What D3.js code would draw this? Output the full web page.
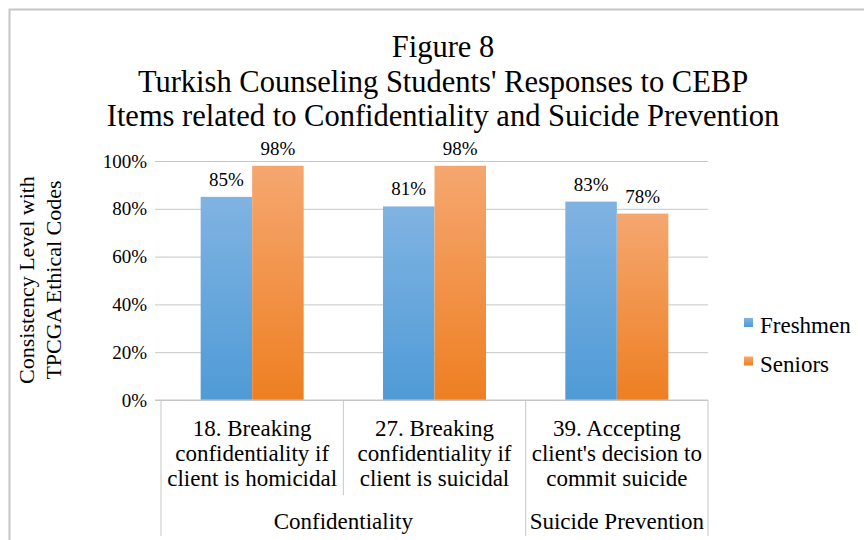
<!DOCTYPE html>
<html>
<head>
<meta charset="utf-8">
<script src="https://cdn.jsdelivr.net/npm/d3@7"></script>
<style>
  body { margin: 0; background: #fff; }
  text { font-family: "Liberation Serif", "Times New Roman", serif; fill: #000; }
</style>
</head>
<body>
<script>
// values
let categories = [
    ["18. Breaking", "confidentiality if", "client is homicidal"],
    ["27. Breaking", "confidentiality if", "client is suicidal"],
    ["39. Accepting", "client's decision to", "commit suicide"]
];
let groups = [
    { name: "Confidentiality", from: 0, to: 2 },
    { name: "Suicide Prevention", from: 2, to: 3 }
];
let seriesNames = ["Freshmen", "Seniors"];
let freshmen = [85, 81, 83];
let seniors = [98, 98, 78];
let yTicks = [0, 20, 40, 60, 80, 100];

let titleLines = [
    "Figure 8",
    "Turkish Counseling Students' Responses to CEBP",
    "Items related to Confidentiality and Suicide Prevention"
];

let width = 864, height = 540;
let plotLeft = 161, plotRight = 708, plotTop = 161, plotBottom = 400;

let svg = d3.select("body").append("svg")
    .attr("width", width)
    .attr("height", height);

// gradients like the original office chart
let defs = svg.append("defs");
let colors = [["#80b3e2", "#4f9bd6"], ["#f5a770", "#ee7f22"]];
colors.forEach((c, i) => {
    let g = defs.append("linearGradient")
        .attr("id", "grad" + i)
        .attr("x1", 0).attr("y1", 0).attr("x2", 0).attr("y2", 1);
    g.append("stop").attr("offset", "0%").attr("stop-color", c[0]);
    g.append("stop").attr("offset", "100%").attr("stop-color", c[1]);
});

// outer frame
svg.append("rect")
    .attr("x", 9.5).attr("y", 9.5)
    .attr("width", 900).attr("height", 600)
    .attr("fill", "none")
    .attr("stroke", "#c6c6c6")
    .attr("stroke-width", 2);

// title
svg.append("g").selectAll("text")
    .data(titleLines)
    .enter()
    .append("text")
    .attr("x", 443)
    .attr("y", (d, i) => 57 + i * 34.5)
    .attr("text-anchor", "middle")
    .style("font-size", "30.5px")
    .text(d => d);

let x = d3.scaleBand()
    .domain(d3.range(categories.length))
    .range([plotLeft, plotRight]);

let inner = d3.scaleBand()
    .domain(seriesNames)
    .range([0, x.bandwidth()])
    .paddingInner(0)
    .paddingOuter(0.77);

let y = d3.scaleLinear()
    .domain([0, 100])
    .range([plotBottom, plotTop]);

// gridlines + y axis
let yAxis = svg.append("g")
    .attr("transform", `translate(${plotLeft},0)`)
    .call(d3.axisLeft(y)
        .tickValues(yTicks)
        .tickSize(-(plotRight - plotLeft))
        .tickPadding(14)
        .tickFormat(d => d + "%"));
yAxis.select(".domain").remove();
yAxis.selectAll("line").attr("stroke", "#c6c6c6");
yAxis.selectAll("text")
    .style("font-size", "19px");
yAxis.selectAll(".tick").append("line")
    .attr("x1", -6).attr("x2", 0)
    .attr("stroke", "#c6c6c6");

// y axis title
svg.append("text")
    .attr("transform", "translate(34,280) rotate(-90)")
    .attr("text-anchor", "middle")
    .style("font-size", "22px")
    .selectAll("tspan")
    .data(["Consistency Level with", "TPCGA Ethical Codes"])
    .enter()
    .append("tspan")
    .attr("x", 0)
    .attr("dy", (d, i) => i === 0 ? 0 : 27)
    .text(d => d);

// bars
let barData = [];
categories.forEach((c, i) => {
    barData.push({ cat: i, series: "Freshmen", idx: 0, value: freshmen[i] });
    barData.push({ cat: i, series: "Seniors", idx: 1, value: seniors[i] });
});

svg.append("g").selectAll("rect")
    .data(barData)
    .enter()
    .append("rect")
    .attr("x", d => x(d.cat) + inner(d.series))
    .attr("y", d => y(d.value))
    .attr("width", inner.bandwidth())
    .attr("height", d => plotBottom - y(d.value))
    .attr("fill", d => `url(#grad${d.idx})`);

// data labels
svg.append("g").selectAll("text")
    .data(barData)
    .enter()
    .append("text")
    .attr("x", d => x(d.cat) + inner(d.series) + inner.bandwidth() / 2)
    .attr("y", d => y(d.value) - 11)
    .attr("text-anchor", "middle")
    .style("font-size", "19px")
    .text(d => d.value + "%");

// x axis line
svg.append("line")
    .attr("x1", plotLeft - 6).attr("x2", plotRight)
    .attr("y1", plotBottom).attr("y2", plotBottom)
    .attr("stroke", "#c6c6c6");

// category separators (short) and group separators (long)
let groupEdges = [0];
groups.forEach(g => groupEdges.push(g.to));
d3.range(categories.length + 1).forEach(i => {
    let isGroup = groupEdges.indexOf(i) >= 0;
    let xp = i < categories.length ? x(i) : plotRight;
    svg.append("line")
        .attr("x1", xp).attr("x2", xp)
        .attr("y1", plotBottom)
        .attr("y2", isGroup ? 536 : 495)
        .attr("stroke", "#c6c6c6");
});

// category labels
categories.forEach((lines, i) => {
    svg.append("g").selectAll("text")
        .data(lines)
        .enter()
        .append("text")
        .attr("x", x(i) + x.bandwidth() / 2)
        .attr("y", (d, j) => 436 + j * 25)
        .attr("text-anchor", "middle")
        .style("font-size", "23px")
        .text(d => d);
});

// group labels
svg.append("g").selectAll("text")
    .data(groups)
    .enter()
    .append("text")
    .attr("x", d => (x(d.from) + (d.to < categories.length ? x(d.to) : plotRight)) / 2)
    .attr("y", 529)
    .attr("text-anchor", "middle")
    .style("font-size", "23px")
    .text(d => d.name);

// legend
let legend = svg.append("g").selectAll("g")
    .data(seriesNames)
    .enter()
    .append("g")
    .attr("transform", (d, i) => `translate(744,${318 + i * 38.5})`);
legend.append("rect")
    .attr("width", 9).attr("height", 9)
    .attr("fill", (d, i) => `url(#grad${i})`);
legend.append("text")
    .attr("x", 16)
    .attr("y", 15)
    .style("font-size", "23px")
    .text(d => d);
</script>
</body>
</html>
